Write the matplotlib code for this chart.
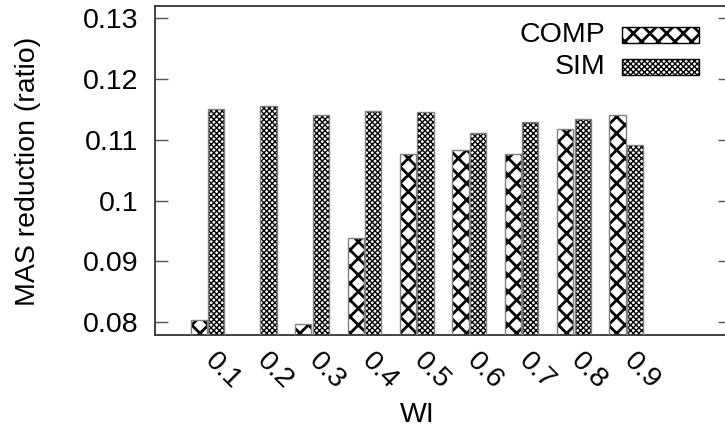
import matplotlib
matplotlib.use("Agg")
import matplotlib.pyplot as plt
from matplotlib.patches import Rectangle
from matplotlib.transforms import ScaledTranslation
import numpy as np

plt.rcParams["font.family"] = ["Liberation Sans", "DejaVu Sans"]

wi_labels = ["0.1", "0.2", "0.3", "0.4", "0.5", "0.6", "0.7", "0.8", "0.9"]
comp = [0.0804, 0.0775, 0.0797, 0.0939, 0.1076, 0.1083, 0.1076, 0.1117, 0.1140]
sim = [0.1151, 0.1155, 0.1140, 0.1147, 0.1145, 0.1111, 0.1129, 0.1134, 0.1091]
yticks = [0.08, 0.09, 0.1, 0.11, 0.12, 0.13]
ytick_labels = ["0.08", "0.09", "0.1", "0.11", "0.12", "0.13"]

W, H = 725, 434
FS = 20.5
EDGE = "#333333"
COMP_HATCH, COMP_HLW = "xx", 2.0
SIM_HATCH, SIM_HLW = "xxxxxx", 1.0

fig = plt.figure(figsize=(W / 100, H / 100), dpi=100)
# right border sits just past the image edge, like the original
ax = fig.add_axes([155 / W, (H - 335) / H, (731 - 155) / W, (335 - 6) / H])

x = np.arange(len(wi_labels))
bw = 0.31
off = 1 / 6


def hatched(xs, vals, hatch, hlw):
    with plt.rc_context({"hatch.linewidth": hlw, "hatch.color": "black"}):
        bars = ax.bar(xs, vals, bw, color="white", edgecolor="black",
                      hatch=hatch, linewidth=0, zorder=2)
        for b in bars:
            if hasattr(b, "set_hatch_linewidth"):
                b.set_hatch_linewidth(hlw)
    ax.bar(xs, vals, bw, fill=False, edgecolor="#808080", linewidth=1.0, zorder=3)


hatched(x - off, comp, COMP_HATCH, COMP_HLW)
hatched(x + off, sim, SIM_HATCH, SIM_HLW)

ax.set_xlim(-1, 10)
ax.set_ylim(0.07786, 0.13202)

ax.set_yticks(yticks)
ax.set_yticklabels(ytick_labels, fontsize=FS)
ax.tick_params(axis="y", direction="in", length=9.5, width=1.0, color="#555555",
               pad=12, right=True)

ax.set_xticks(x)
ax.set_xticklabels(wi_labels, fontsize=FS, rotation=-45, ha="left", va="top")
ax.tick_params(axis="x", length=0, pad=9)
shift = ScaledTranslation(-8 / 100, 0, fig.dpi_scale_trans)
for lab in ax.get_xticklabels():
    lab.set_transform(lab.get_transform() + shift)

for s in ax.spines.values():
    s.set_color(EDGE)
    s.set_linewidth(1.3)


# legend, gnuplot style: label first, sample after
def legend_row(y_top, text, hatch, hlw):
    with plt.rc_context({"hatch.linewidth": hlw, "hatch.color": "black"}):
        r = Rectangle((622 / W, 1 - (y_top + 16) / H), 77 / W, 16 / H,
                      transform=fig.transFigure, facecolor="white",
                      edgecolor="black", hatch=hatch, linewidth=1.0)
        if hasattr(r, "set_hatch_linewidth"):
            r.set_hatch_linewidth(hlw)
        fig.add_artist(r)
    fig.text(605 / W, 1 - (y_top + 8) / H, text, ha="right", va="center",
             fontsize=FS)


legend_row(27, "COMP", COMP_HATCH, COMP_HLW)
legend_row(59, "SIM", SIM_HATCH, SIM_HLW)

fig.text(28.5 / W, 1 - 171 / H, "MAS reduction (ratio)", rotation=90,
         ha="center", va="center", fontsize=FS)
fig.text(417 / W, 1 - 415 / H, "WI", ha="center", va="center", fontsize=FS)

fig.savefig("out.png", dpi=100, facecolor="white")
